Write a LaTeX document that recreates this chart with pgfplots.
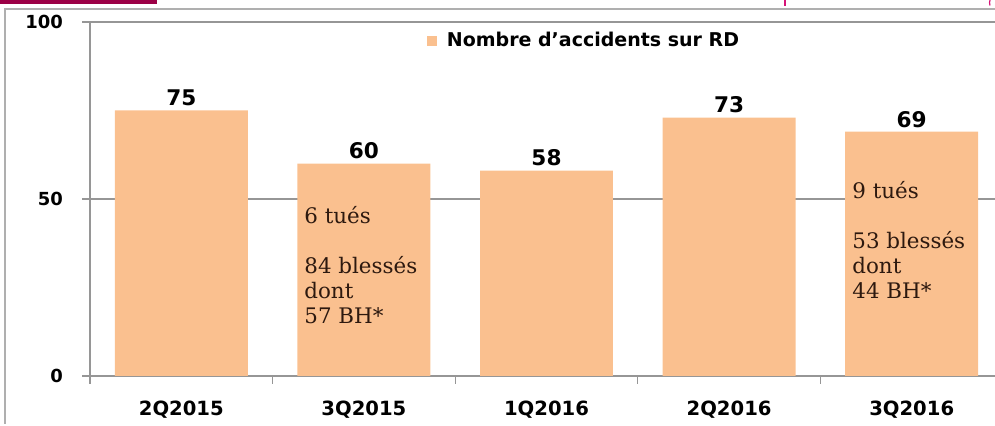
\documentclass[border=0pt]{standalone}
\usepackage{fontspec}
\setmainfont{DejaVu Sans}
\newfontfamily\serifann{DejaVu Serif}
\usepackage{pgfplots}
\pgfplotsset{compat=1.18}
\definecolor{barfill}{RGB}{250,192,143}
\definecolor{gridgray}{RGB}{150,150,150}
\definecolor{framegray}{RGB}{175,175,175}
\definecolor{maroonbar}{RGB}{155,0,70}
\definecolor{pinkline}{RGB}{215,20,120}
\definecolor{anntext}{RGB}{45,25,15}

\begin{document}
\begin{tikzpicture}
% frame and header bits (1 px = 0.5pt)
\fill[maroonbar] (0pt,211pt) rectangle (78.5pt,213pt);
\draw[pinkline, line width=0.6pt] (392.5pt,210pt) -- (392.5pt,213pt);
\draw[pinkline, line width=0.6pt] (495pt,213pt) arc (160:200:4pt);
\draw[framegray, line width=0.7pt] (2.5pt,1pt) -- (2.5pt,208.5pt) -- (505pt,208.5pt);

\begin{axis}[
  at={(45pt,25pt)}, anchor=south west,
  scale only axis, width=456.5pt, height=177pt,
  xmin=-0.5, xmax=4.5, ymin=0, ymax=100,
  ybar, bar width=0.728, bar shift=0pt,
  axis x line*=bottom, axis y line*=left,
  axis line style={gridgray, line width=0.8pt},
  ytick={0,50,100},
  ymajorgrids, grid style={gridgray, line width=0.6pt},
  xtick={-0.5,0.5,1.5,2.5,3.5,4.5}, xticklabels={},
  extra x ticks={0,1,2,3,4},
  extra x tick labels={2Q2015,3Q2015,1Q2016,2Q2016,3Q2016},
  extra x tick style={major tick length=0pt, grid=none,
    xticklabel style={yshift=-9pt}},
  tick align=outside, major tick length=4pt,
  tick style={gridgray, line width=0.6pt},
  /pgf/number format/assume math mode=true,
  xticklabel style={font=\bfseries\fontsize{9.8}{11}\selectfont},
  yticklabel style={font=\bfseries\fontsize{9}{11}\selectfont, xshift=-6pt},
  nodes near coords,
  nodes near coords style={font=\bfseries\fontsize{10.8}{12}\selectfont,
    anchor=south, inner sep=2pt, text=black},
  legend style={draw=none, fill=none, at={(axis cs:1.31,94.6)}, anchor=west,
    font=\bfseries\fontsize{9.5}{11}\selectfont},
  legend image code/.code={\fill[barfill] (0pt,-2.5pt) rectangle (5pt,2.5pt);
    \path (8pt,0pt);},
]
\addplot[fill=barfill, draw=none] coordinates {(0,75) (1,60) (2,58) (3,73) (4,69)};
\addlegendentry{Nombre d’accidents sur RD}

\node[anchor=north west, inner sep=0pt, align=left, text=anntext,
  font=\serifann\fontsize{10.7}{12.5}\selectfont]
  at (axis cs:0.672,48) {6 tués\\[12.5pt]84 blessés\\dont\\57 BH*};
\node[anchor=north west, inner sep=0pt, align=left, text=anntext,
  font=\serifann\fontsize{10.7}{12.5}\selectfont]
  at (axis cs:3.673,55.2) {9 tués\\[12.5pt]53 blessés\\dont\\44 BH*};
\end{axis}
\pgfresetboundingbox
\useasboundingbox (0pt,0pt) rectangle (497.5pt,213pt);
\end{tikzpicture}
\end{document}
